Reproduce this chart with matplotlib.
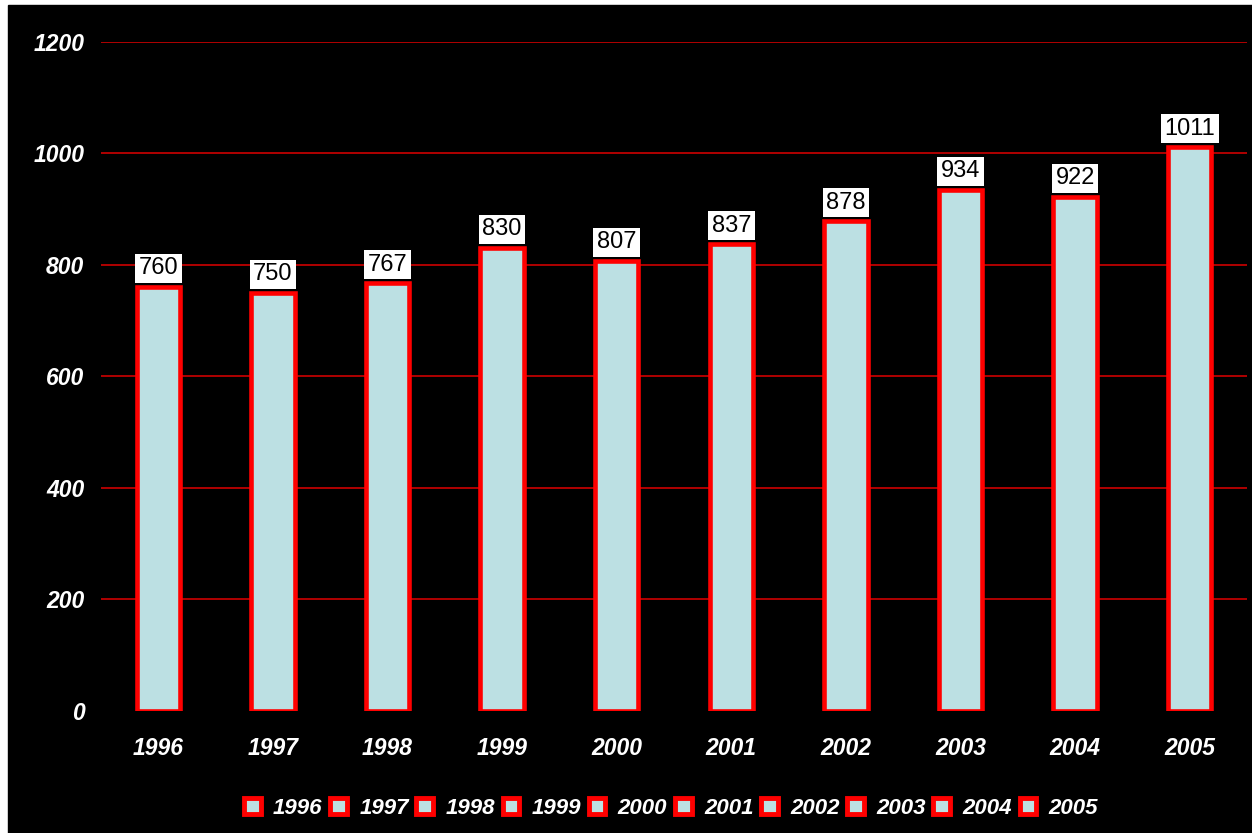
import numpy as np
import matplotlib.pyplot as plt
from matplotlib.patches import Patch, Rectangle

plt.rcParams['font.family'] = ['Liberation Sans', 'DejaVu Sans']

# data
years = ['1996', '1997', '1998', '1999', '2000', '2001', '2002', '2003', '2004', '2005']
values = [760, 750, 767, 830, 807, 837, 878, 934, 922, 1011]

fill = '#BCE0E3'
edge = '#FF0000'

fig = plt.figure(figsize=(12.52, 8.33), dpi=100, facecolor='white')
# black panel with small white margin top/left
bg = Rectangle((8 / 1252, 0), 1 - 8 / 1252, 1 - 5 / 833,
               transform=fig.transFigure, color='black', zorder=-10)
fig.add_artist(bg)
ax = fig.add_axes([0.0807, 0.1465, 0.9153, 0.8031])
ax.set_facecolor('black')

x = np.arange(len(years))
bars = ax.bar(x, values, width=0.38, color=fill, edgecolor=edge, linewidth=3.3, zorder=3)

for xi, v in zip(x, values):
    ax.text(xi, v + 14, str(v), ha='center', va='bottom', fontsize=17, color='black',
            bbox=dict(boxstyle='square,pad=0.15', facecolor='white', edgecolor='none'),
            zorder=4)

ax.set_ylim(0, 1200)
ax.set_xlim(-0.5, len(years) - 0.5)
ax.set_yticks(np.arange(0, 1201, 200))
ax.yaxis.grid(True, color='#E00000', linewidth=1.1)
ax.yaxis.get_gridlines()[0].set_visible(False)
ax.set_axisbelow(True)
for s in ax.spines.values():
    s.set_visible(False)
ax.tick_params(length=0)
ax.tick_params(axis='y', pad=12)
ax.tick_params(axis='x', pad=19)
ax.set_xticks(x)
ax.set_xticklabels(years)
for lab in ax.get_xticklabels() + ax.get_yticklabels():
    lab.set_color('white')
    lab.set_fontsize(16.5)
    lab.set_fontweight('bold')
    lab.set_fontstyle('italic')

handles = [Patch(facecolor=fill, edgecolor=edge, linewidth=3.5) for _ in years]
leg = fig.legend(handles, years, loc='center', bbox_to_anchor=(0.536, 0.03), ncol=10,
                 frameon=False, handlelength=0.75, handleheight=0.75, handletextpad=0.55,
                 columnspacing=0.35, prop={'size': 16, 'weight': 'bold', 'style': 'italic'})
for t in leg.get_texts():
    t.set_color('white')

fig.savefig('out.png', dpi=100, facecolor=fig.get_facecolor())
